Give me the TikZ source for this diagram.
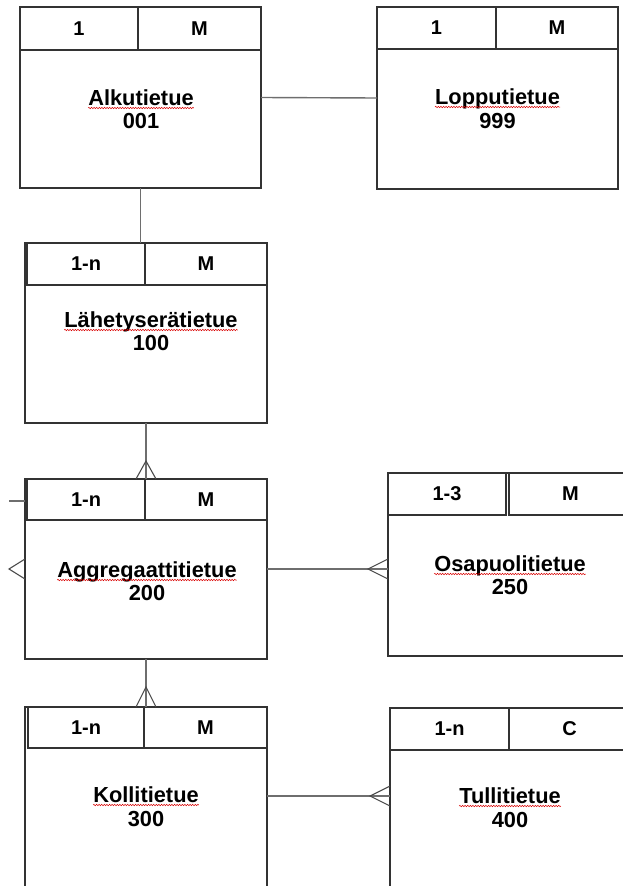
\documentclass[tikz,border=0pt]{standalone}
\usepackage{fontspec}
\setmainfont{Liberation Sans}
\usetikzlibrary{decorations.pathmorphing}
\definecolor{edge}{HTML}{333333}
\definecolor{link}{HTML}{6E6E6E}
\definecolor{foot}{HTML}{4A4A4A}
\tikzset{
  erbox/.style={draw=edge, line width=1.3pt, rectangle, inner sep=0pt, outer sep=0pt, anchor=north west},
  cell/.style={draw=edge, line width=1.3pt, rectangle, inner sep=0pt, outer sep=0pt, anchor=north west,
    text=black, font=\bfseries\fontsize{20}{22}\selectfont},
  ename/.style={inner sep=0pt, anchor=base, text=black, font=\bfseries\fontsize{21.8}{24}\selectfont},
  squig/.style={draw=red!85!black, line width=0.5pt, decorate,
    decoration={snake, amplitude=0.7pt, segment length=2.6pt}},
  conn/.style={draw=link, line width=1.4pt},
  crow/.style={draw=foot, line width=1.1pt, line join=miter},
}
\begin{document}
\begin{tikzpicture}[x=1pt, y=-1pt]
\useasboundingbox (0,0) rectangle (623,886);
\clip (0,0) rectangle (623,886);

% boxes
\node[erbox, minimum width=241pt, minimum height=181pt] (A) at (20,7) {};
\node[cell, minimum width=118pt, minimum height=43pt] (A1) at (20,7) {1};
\node[cell, minimum width=123pt, minimum height=43pt] (A2) at (138,7) {M};
\node[ename] (An) at (141,105) {Alkutietue};
\node[ename] (Ak) at (141,128) {001};

\node[erbox, minimum width=241pt, minimum height=182pt] (L) at (377,7) {};
\node[cell, minimum width=119pt, minimum height=42pt] (L1) at (377,7) {1};
\node[cell, minimum width=122pt, minimum height=42pt] (L2) at (496,7) {M};
\node[ename] (Ln) at (497.5,104) {Lopputietue};
\node[ename] (Lk) at (497.5,128) {999};

\node[erbox, minimum width=242pt, minimum height=180pt] (H) at (25,243) {};
\node[cell, minimum width=118pt, minimum height=42pt] (H1) at (27,243) {1-n};
\node[cell, minimum width=122pt, minimum height=42pt] (H2) at (145,243) {M};
\node[ename] (Hn) at (151,327) {Lähetyserätietue};
\node[ename] (Hk) at (151,350) {100};

\node[erbox, minimum width=242pt, minimum height=180pt] (G) at (25,479) {};
\node[cell, minimum width=118pt, minimum height=41pt] (G1) at (27,479) {1-n};
\node[cell, minimum width=122pt, minimum height=41pt] (G2) at (145,479) {M};
\node[ename] (Gn) at (147,577) {Aggregaattitietue};
\node[ename] (Gk) at (147,600) {200};

\node[erbox, minimum width=244pt, minimum height=183pt] (O) at (388,473) {};
\node[cell, minimum width=118pt, minimum height=42pt] (O1) at (388,473) {1-3};
\node[cell, minimum width=123pt, minimum height=42pt] (O2) at (509,473) {M};
\node[ename] (On) at (510,571) {Osapuolitietue};
\node[ename] (Ok) at (510,594) {250};

\node[erbox, minimum width=242pt, minimum height=200pt] (K) at (25,707) {};
\node[cell, minimum width=116pt, minimum height=41pt] (K1) at (28,707) {1-n};
\node[cell, minimum width=123pt, minimum height=41pt] (K2) at (144,707) {M};
\node[ename] (Kn) at (146,802) {Kollitietue};
\node[ename] (Kk) at (146,826) {300};

\node[erbox, minimum width=240pt, minimum height=200pt] (T) at (390,708) {};
\node[cell, minimum width=119pt, minimum height=42pt] (T1) at (390,708) {1-n};
\node[cell, minimum width=121pt, minimum height=42pt] (T2) at (509,708) {C};
\node[ename] (Tn) at (510,803) {Tullitietue};
\node[ename] (Tk) at (510,827) {400};

% spell-check underlines
\foreach \n in {An,Ln,Hn,Gn,On,Kn,Tn}
  \draw[squig] ([yshift=-3pt]\n.base west) -- ([yshift=-3pt]\n.base east);

% connectors
\draw[conn] (A.east) -- (L.west);
\draw[conn] (A.south) -- (A.south |- H.north);
\draw[conn] (H.south) -- (G.north);
\draw[crow] ([xshift=-10pt]G.north) -- ([yshift=18pt]G.north) -- ([xshift=10pt]G.north);
\draw[conn] (G.south) -- (K.north);
\draw[crow] ([xshift=-10pt]K.north) -- ([yshift=20pt]K.north) -- ([xshift=10pt]K.north);

\coordinate (ow) at (G.east -| O.west);
\draw[conn] (G.east) -- (ow);
\draw[crow] ([yshift=10pt]ow) -- ([xshift=-20pt]ow) -- ([yshift=-10pt]ow);

\coordinate (ke) at ([yshift=-89pt]K.north east);
\coordinate (tw) at (ke -| T.west);
\draw[conn] (ke) -- (tw);
\draw[crow] ([yshift=10pt]tw) -- ([xshift=-20pt]tw) -- ([yshift=-10pt]tw);

% stubs leaving the left edge of the aggregate box
\coordinate (gs) at ([yshift=-22pt]G.north west);
\draw[conn] (gs) -- ++(-16,0);
\draw[crow] ([yshift=10pt]G.west) -- ([xshift=-16pt]G.west) -- ([yshift=-10pt]G.west);
\end{tikzpicture}
\end{document}
